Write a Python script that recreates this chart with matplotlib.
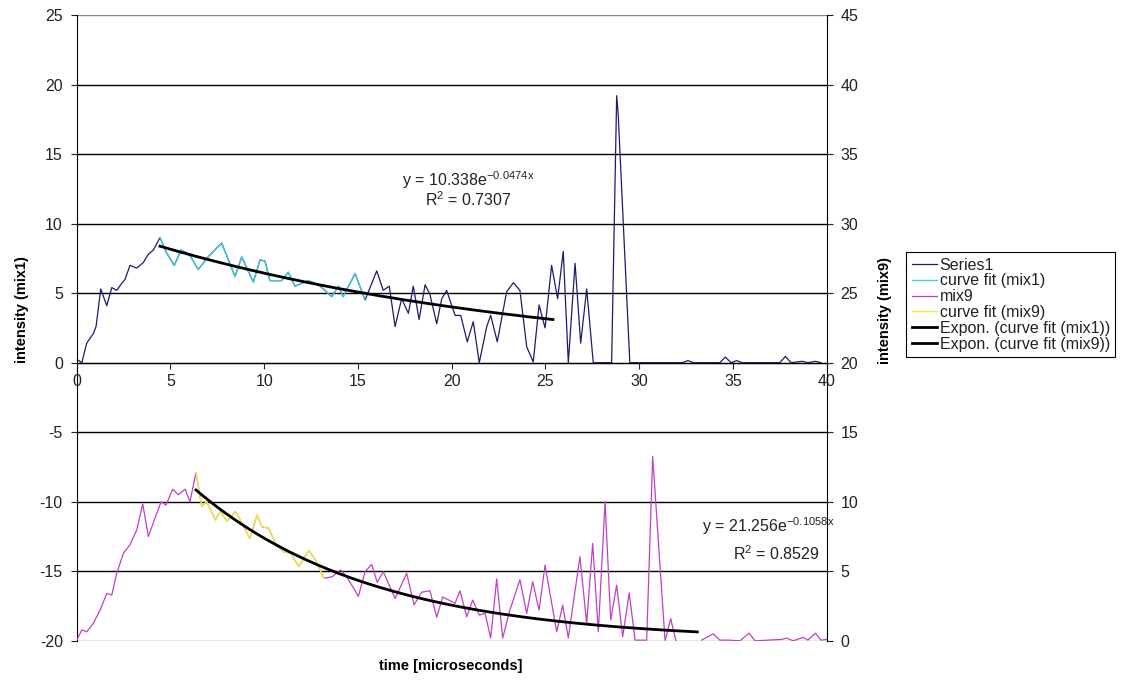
import numpy as np
import matplotlib
matplotlib.use("Agg")
import matplotlib.pyplot as plt
from matplotlib.lines import Line2D

plt.rcParams["font.family"] = ["Liberation Sans", "DejaVu Sans"]
plt.rcParams["mathtext.default"] = "regular"
plt.rcParams["axes.unicode_minus"] = False

# mix1 (primary axis)
t1 = [0.0, 0.27, 0.53, 0.89, 1.03, 1.28, 1.6, 1.87, 2.13, 2.4, 2.58, 2.84, 3.2, 3.55, 3.82, 4.09,
      4.44, 4.79, 5.2, 5.57, 6.0, 6.48, 7.0, 7.73, 8.44, 8.8, 9.42, 9.78, 10.04, 10.3, 10.93, 11.28,
      11.64, 12.35, 12.9, 13.6, 13.96, 14.2, 14.85, 15.38,
      16.0, 16.35, 16.67, 16.98, 17.33, 17.69, 17.95, 18.26, 18.58, 18.84, 19.2, 19.47, 19.73, 20.18,
      20.48, 20.83, 21.15, 21.47, 21.87, 22.08, 22.43, 22.93, 23.29, 23.64, 24.0,
      24.35, 24.66, 24.98, 25.33, 25.65, 25.95, 26.22, 26.58, 26.88, 27.2, 27.55, 27.9, 28.2, 28.53,
      28.8, 28.88, 29.5,
      32.3, 32.6, 32.9, 34.3, 34.6, 34.9, 35.2, 35.5, 37.5, 37.8, 38.1, 38.7, 39.0, 39.4, 39.7]
mix1 = [0.25, 0.0, 1.4, 2.1, 2.6, 5.3, 4.1, 5.4, 5.2, 5.7, 6.0, 7.0, 6.8, 7.2, 7.8, 8.1,
        9.0, 7.9, 7.0, 8.1, 7.8, 6.7, 7.6, 8.6, 6.2, 7.6, 5.8, 7.4, 7.3, 5.9, 5.9, 6.5,
        5.5, 5.9, 5.6, 4.75, 5.5, 4.75, 6.4, 4.5,
        6.6, 5.2, 5.5, 2.6, 4.6, 3.55, 5.5, 3.1, 5.6, 4.9, 2.8, 4.6, 5.2, 3.4,
        3.4, 1.5, 2.95, 0.0, 2.6, 3.4, 1.5, 5.1, 5.75, 5.2, 1.15,
        0.05, 4.15, 2.5, 7.0, 4.6, 8.0, 0.0, 7.15, 1.4, 5.3, 0.0, 0.0, 0.0, 0.0,
        19.2, 17.9, 0.0,
        0.0, 0.15, 0.0, 0.0, 0.4, 0.0, 0.15, 0.0, 0.0, 0.45, 0.0, 0.1, 0.0, 0.1, 0.0]

# mix9 (secondary axis)
t9 = [0.0, 0.27, 0.53, 0.89, 1.24, 1.6, 1.87, 2.13, 2.49, 2.84, 3.2, 3.52, 3.82, 4.14, 4.5, 4.76,
      5.12, 5.42, 5.78, 6.04,
      6.36, 6.67, 6.93, 7.4, 7.66, 8.02, 8.46, 8.82, 9.23, 9.62, 9.88, 10.24, 10.6, 11.04, 11.4,
      11.84, 12.38, 12.74, 13.18,
      13.62, 14.07, 14.4, 14.76, 15.02, 15.38, 15.73, 16.03, 16.35, 16.98, 17.6, 17.99, 18.4, 18.84,
      19.2, 19.52, 20.18, 20.44, 20.8, 21.12,
      21.47, 21.78, 22.08, 22.4, 22.72, 23.1, 23.64, 24.0, 24.32, 24.66, 24.98, 25.6, 25.92, 26.22,
      26.84, 27.2, 27.52, 27.82, 28.18, 28.48,
      28.8, 29.12, 29.47, 29.78, 30.4, 30.72, 31.38, 31.68, 31.96, 32.6,
      33.33, 33.95, 34.3, 34.76, 35.38, 35.86, 36.18, 37.6, 37.86, 38.22, 38.75, 39.0, 39.4, 39.7, 40.0]
mix9 = [0.06, 0.78, 0.65, 1.26, 2.2, 3.4, 3.3, 4.85, 6.3, 6.9, 7.97, 9.84, 7.5, 8.7, 10.0, 9.76,
        10.9, 10.5, 10.9, 10.0,
        12.1, 9.65, 10.0, 8.7, 9.3, 8.6, 9.3, 8.45, 7.37, 9.05, 8.2, 8.1, 7.0, 6.4, 6.3,
        5.33, 6.5, 5.8, 4.5,
        4.6, 5.1, 4.6, 3.8, 3.2, 4.97, 5.5, 4.2, 4.97, 3.05, 4.85, 2.58, 3.5, 3.6,
        1.7, 3.15, 2.7, 3.6, 1.73, 2.93,
        1.85, 1.97, 0.2, 4.45, 0.2, 2.2, 4.4, 1.97, 4.25, 2.2, 5.45, 0.65, 2.57, 0.2,
        6.05, 1.25, 7.0, 0.65, 10.0, 1.5,
        4.0, 0.3, 3.45, 0.05, 0.05, 13.25, 0.0, 1.6, 0.0, np.nan,
        0.05, 0.5, 0.05, 0.05, 0.0, 0.55, 0.0, 0.1, 0.2, 0.0, 0.25, 0.05, 0.55, 0.05, 0.1]

# ranges used for the "curve fit" series and the exponential trendlines
fit1_range = (4.44, 15.38)
fit9_range = (6.36, 13.18)
trend1_range = (4.44, 25.4)
trend9_range = (6.36, 33.1)
trend1_coef = (10.338, -0.0474)
trend9_coef = (21.256, -0.1058)
eq1 = ["y = 10.338e$^{-0.0474x}$", "R$^{2}$ = 0.7307"]
eq9 = ["y = 21.256e$^{-0.1058x}$", "R$^{2}$ = 0.8529"]

NAVY = "#1c1c6e"
CYAN = "#3fcfd6"
MAGENTA = "#c23fc8"
YELLOW = "#eeee3a"
TXT = "#222222"

t1 = np.array(t1); mix1 = np.array(mix1)
t9 = np.array(t9); mix9 = np.array(mix9)

fig = plt.figure(figsize=(11.27, 6.85), dpi=100)
ax = fig.add_axes([0.0681, 0.0645, 0.6654, 0.9136])
ax2 = ax.twinx()

ax.set_xlim(0, 40)
ax.set_ylim(-20, 25)
ax2.set_ylim(0, 45)

yt = np.arange(-20, 26, 5)
for v in yt:
    c = "#8a8a8a" if v in (-20, 25) else "black"
    ax.axhline(v, color=c, lw=1.0, zorder=0.5)

# primary series
ax.plot(t1, mix1, color=NAVY, lw=0.9, zorder=2)
m1 = (t1 >= fit1_range[0]) & (t1 <= fit1_range[1])
ax.plot(t1[m1], mix1[m1], color=CYAN, lw=1.0, zorder=3)
x_tr1 = np.linspace(*trend1_range, 200)
ax.plot(x_tr1, trend1_coef[0] * np.exp(trend1_coef[1] * x_tr1), color="black", lw=2.0, zorder=4)

# secondary series
ax2.plot(t9, mix9, color=MAGENTA, lw=0.9, zorder=2)
m9 = (t9 >= fit9_range[0]) & (t9 <= fit9_range[1])
ax2.plot(t9[m9], mix9[m9], color=YELLOW, lw=1.0, zorder=3)
x_tr9 = np.linspace(*trend9_range, 200)
ax2.plot(x_tr9, trend9_coef[0] * np.exp(trend9_coef[1] * x_tr9), color="black", lw=2.0, zorder=4)

# axes styling
ax.spines["top"].set_visible(False)
ax.spines["right"].set_visible(False)
ax.spines["bottom"].set_position(("data", 0))
ax.spines["bottom"].set_color("black")
ax.spines["left"].set_color("black")
for s in ("top", "left", "bottom"):
    ax2.spines[s].set_visible(False)
ax2.spines["right"].set_color("black")

ax.set_xticks(np.arange(0, 41, 5))
ax.set_yticks(yt)
ax2.set_yticks(np.arange(0, 46, 5))
ax.tick_params(axis="x", direction="out", length=4, width=0.8, pad=4, labelsize=11.5, colors=TXT)
ax.tick_params(axis="y", direction="out", length=4, width=0.8, pad=6, labelsize=11.5, colors=TXT)
ax2.tick_params(axis="y", direction="out", length=4, width=0.8, pad=6, labelsize=11.5, colors=TXT)

# trendline equations
ax.text(20.9, 13.1, eq1[0], ha="center", va="center", fontsize=11.5, color=TXT)
ax.text(20.9, 11.75, eq1[1], ha="center", va="center", fontsize=11.5, color=TXT)
ax.text(36.9, -11.75, eq9[0], ha="center", va="center", fontsize=11.5, color=TXT)
ax.text(37.3, -13.7, eq9[1], ha="center", va="center", fontsize=11.5, color=TXT)

# axis titles
fig.text(451 / 1127, 1 - 666 / 685, "time [microseconds]", ha="center", va="center",
         fontsize=10.5, fontweight="bold")
fig.text(22 / 1127, 1 - 310 / 685, "intensity (mix1)", ha="center", va="center",
         rotation=90, fontsize=10.5, fontweight="bold")
fig.text(885 / 1127, 1 - 310 / 685, "intensity (mix9)", ha="center", va="center",
         rotation=90, fontsize=10.5, fontweight="bold")

handles = [
    Line2D([], [], color=NAVY, lw=0.9),
    Line2D([], [], color=CYAN, lw=1.0),
    Line2D([], [], color=MAGENTA, lw=0.9),
    Line2D([], [], color=YELLOW, lw=1.0),
    Line2D([], [], color="black", lw=2.0),
    Line2D([], [], color="black", lw=2.0),
]
labels = ["Series1", "curve fit (mix1)", "mix9", "curve fit (mix9)",
          "Expon. (curve fit (mix1))", "Expon. (curve fit (mix9))"]
leg = fig.legend(handles, labels, loc="upper left", bbox_to_anchor=(906 / 1127, 1 - 252 / 685),
                 fontsize=11.5, labelspacing=0.05, handlelength=1.6, handletextpad=0.15,
                 borderpad=0.35, borderaxespad=0, fancybox=False, framealpha=1)
leg.get_frame().set_edgecolor("black")
leg.get_frame().set_linewidth(0.8)
for txt in leg.get_texts():
    txt.set_color(TXT)

fig.savefig("out.png", dpi=100)
